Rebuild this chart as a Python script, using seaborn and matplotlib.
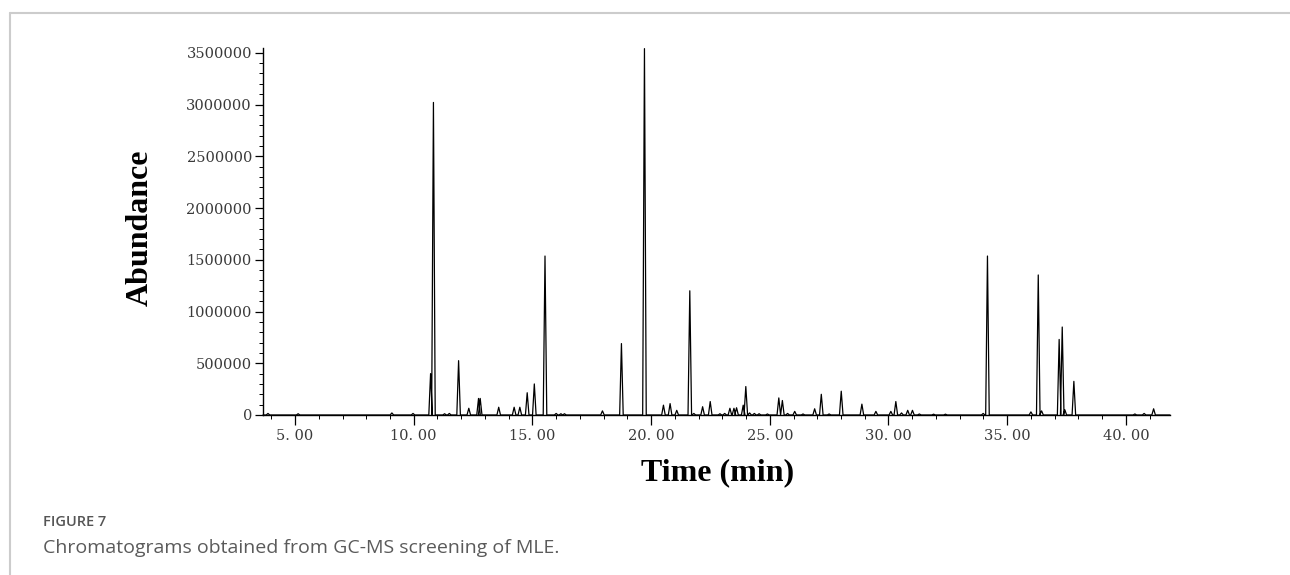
import matplotlib
matplotlib.use("Agg")
import matplotlib.pyplot as plt
from matplotlib.lines import Line2D
from matplotlib.ticker import FixedLocator, MultipleLocator
import numpy as np
import pandas as pd
import seaborn as sns

# ---- data ----
peak_times = [3.86, 5.13, 9.08, 9.97, 10.71, 10.83, 11.30, 11.50, 11.89, 12.32,
              12.73, 12.80, 13.58, 14.23, 14.47, 14.78, 15.08, 15.53, 16.00, 16.20,
              16.35, 17.95, 18.75, 19.72, 20.52, 20.80, 21.08, 21.63, 21.80, 22.17,
              22.49, 22.90, 23.10, 23.32, 23.49, 23.60, 23.88, 23.99, 24.15, 24.35,
              24.55, 24.90, 25.38, 25.53, 25.75, 26.05, 26.40, 26.89, 27.17, 27.50,
              28.01, 28.88, 29.47, 30.10, 30.31, 30.55, 30.81, 31.01, 31.30, 31.90,
              32.40, 33.99, 34.17, 36.00, 36.31, 36.45, 37.19, 37.32, 37.43, 37.81,
              40.38, 40.77, 41.17]
peak_heights = [15000, 12000, 20000, 15000, 400000, 3020000, 12000, 15000, 525000, 65000,
                160000, 160000, 75000, 75000, 75000, 215000, 300000, 1536000, 15000, 12000,
                12000, 40000, 690000, 3540000, 95000, 110000, 45000, 1200000, 15000, 80000,
                130000, 12000, 15000, 65000, 65000, 70000, 95000, 275000, 20000, 15000,
                12000, 10000, 165000, 140000, 15000, 35000, 10000, 60000, 200000, 10000,
                230000, 105000, 35000, 35000, 130000, 20000, 45000, 45000, 10000, 8000,
                8000, 15000, 1536000, 30000, 1353000, 40000, 730000, 850000, 50000, 325000,
                10000, 15000, 60000]
run_start, run_end = 3.65, 41.86

y_ticks = [0, 500000, 1000000, 1500000, 2000000, 2500000, 3000000, 3500000]
y_tick_labels = ["0", "500000", "1000000", "1500000", "2000000", "2500000", "3000000", "3500000"]
x_ticks = [5, 10, 15, 20, 25, 30, 35, 40]
x_tick_labels = ["5. 00", "10. 00", "15. 00", "20. 00", "25. 00", "30. 00", "35. 00", "40. 00"]

x_label = "Time (min)"
y_label = "Abundance"
fig_label = "FIGURE 7"
caption = "Chromatograms obtained from GC-MS screening of MLE."

# ---- build trace vertices (baseline - apex - baseline for every peak) ----
HALF_W = 0.075
xs, ys = [run_start], [0.0]
for t, h in zip(peak_times, peak_heights):
    xs += [t - HALF_W, t, t + HALF_W]
    ys += [0.0, h, 0.0]
xs.append(run_end)
ys.append(0.0)
trace = pd.DataFrame({"time": xs, "abundance": ys})

sns.set_style("ticks")
plt.rcParams["font.family"] = ["DejaVu Serif"]

W, H = 1290, 575
fig = plt.figure(figsize=(W / 100, H / 100), dpi=100)
ax_l, ax_r, ax_b, ax_t = 263, 1170, 415, 48
ax = fig.add_axes([ax_l / W, 1 - ax_b / H, (ax_r - ax_l) / W, (ax_b - ax_t) / H])

sns.lineplot(data=trace, x="time", y="abundance", sort=False, estimator=None,
             color="black", linewidth=0.9, ax=ax)
for ln in ax.lines:
    ln.set_clip_on(False)

ax.set_xlim(run_start, run_end)
ax.set_ylim(0, 3546000)
ax.set_xlabel("")
ax.set_ylabel("")

sns.despine(ax=ax)
for s in ["left", "bottom"]:
    ax.spines[s].set_linewidth(1.0)
    ax.spines[s].set_color("black")

ax.xaxis.set_major_locator(FixedLocator(x_ticks))
ax.set_xticklabels(x_tick_labels)
ax.xaxis.set_minor_locator(MultipleLocator(1))
ax.yaxis.set_major_locator(FixedLocator(y_ticks))
ax.set_yticklabels(y_tick_labels)
ax.yaxis.set_minor_locator(MultipleLocator(100000))

ax.tick_params(axis="both", which="major", direction="out", length=6, width=0.9,
               color="black", labelcolor="#3a3a3a", labelsize=10.5, pad=2)
ax.tick_params(axis="both", which="minor", direction="out", length=3, width=0.7, color="black")
ax.tick_params(axis="x", which="major", length=7, pad=3)
for lab in ax.get_xticklabels() + ax.get_yticklabels():
    lab.set_family("DejaVu Serif")

fig.text(140 / W, 1 - 228 / H, y_label, rotation=90, ha="center", va="center",
         fontsize=23, fontweight="bold", family="Liberation Serif", color="black")
fig.text(718 / W, 1 - 473 / H, x_label, ha="center", va="center",
         fontsize=23, fontweight="bold", family="Liberation Serif", color="black")

fig.text(43 / W, 1 - 522 / H, fig_label, ha="left", va="center",
         fontsize=10.5, fontweight="semibold", family="Open Sans", color="#555555")
fig.text(43 / W, 1 - 548 / H, caption, ha="left", va="center",
         fontsize=14, family="Open Sans", color="#5a5a5a")

# page frame lines
fig.add_artist(Line2D([10 / W, 1], [1 - 13 / H, 1 - 13 / H], color="#cccccc", lw=1.5))
fig.add_artist(Line2D([10 / W, 10 / W], [0, 1 - 13 / H], color="#cccccc", lw=1.5))

fig.savefig("out.png", dpi=100)
